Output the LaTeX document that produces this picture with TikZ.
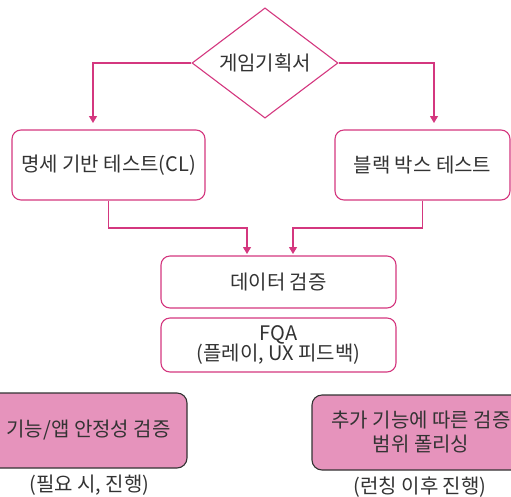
\documentclass[tikz,border=0pt]{standalone}
\usepackage{fontspec}
\setmainfont{Noto Sans CJK KR}
\usetikzlibrary{shapes.geometric,arrows.meta}
\definecolor{pinkline}{HTML}{D4377F}
\definecolor{pinkfill}{HTML}{E693BC}
\definecolor{txt}{HTML}{333333}
\tikzset{
  box/.style={draw=pinkline, line width=1.1pt, rounded corners=9pt, fill=white, text=txt, align=center, inner sep=0pt},
  darkbox/.style={draw=txt, line width=1.1pt, rounded corners=10pt, fill=pinkfill, text=txt, align=center, inner sep=0pt},
  conn/.style={draw=pinkline, line width=1.1pt},
  arr/.style={conn, -{Triangle[width=8pt,length=7pt]}},
  lbl/.style={text=txt, align=center, inner sep=0pt},
}
\begin{document}
\begin{tikzpicture}[x=1pt,y=-1pt, font=\fontsize{20}{20}\selectfont]
\useasboundingbox (0,0) rectangle (511,496);
\clip (0,0) rectangle (511,496);
\node[diamond, draw=pinkline, line width=1.1pt, fill=white, text=txt, minimum width=146pt, minimum height=109pt, inner sep=0pt] (d) at (265,63) {게임기획서};
\node[box, minimum width=193pt, minimum height=70pt] (l) at (108.5,165) {명세 기반 테스트(CL)};
\node[box, minimum width=175pt, minimum height=70pt] (r) at (422.5,165) {블랙 박스 테스트};
\node[box, minimum width=235pt, minimum height=52pt] (data) at (278.5,282) {데이터 검증};
\node[box, minimum width=235pt, minimum height=54pt, font=\fontsize{20}{20.5}\selectfont] (fqa) at (278.5,345) {FQA\\(플레이, UX 피드백)};
\node[darkbox, minimum width=197pt, minimum height=75pt] (bl) at (88.5,430.5) {기능/앱 안정성 검증};
\node[darkbox, minimum width=218pt, minimum height=75pt, font=\fontsize{20}{24}\selectfont] (br) at (421,432.5) {추가 기능에 따른 검증\\범위 폴리싱};
\node[lbl] (cl) at (89.5,485) {(필요 시, 진행)};
\node[lbl] (cr) at (420,487) {(런칭 이후 진행)};
\coordinate (la) at (93,123);
\coordinate (ra) at (434,123);
\coordinate (da) at (247,254);
\coordinate (db) at (293,254);
\draw[arr] (d.west) -| (la);
\draw[arr] (d.east) -| (ra);
\draw[arr] (l.south) |- (247,228) -- (da);
\draw[arr] (r.south) |- (293,228) -- (db);
\end{tikzpicture}
\end{document}
